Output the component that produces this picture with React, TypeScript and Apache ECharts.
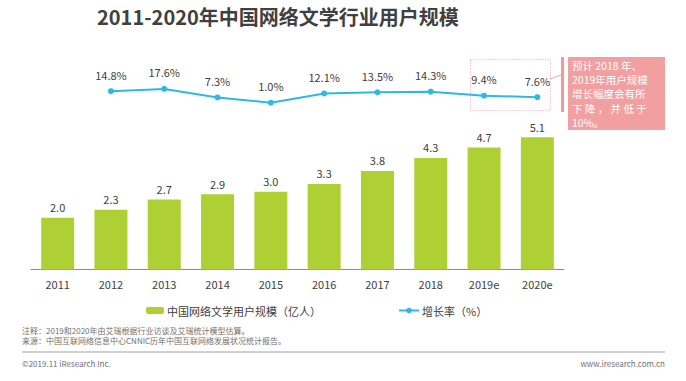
import React, { useEffect, useRef } from "react";
import * as echarts from "echarts";

const categories = ["2011", "2012", "2013", "2014", "2015", "2016", "2017", "2018", "2019e", "2020e"];
const userScale = [2.0, 2.3, 2.7, 2.9, 3.0, 3.3, 3.8, 4.3, 4.7, 5.1];
const growthRate: (number | string)[] = ["-", 14.8, 17.6, 7.3, 1.0, 12.1, 13.5, 14.3, 9.4, 7.6];
const barName = "中国网络文学用户规模（亿人）";
const lineName = "增长率（%）";
const titleText = "2011-2020年中国网络文学行业用户规模";
const noteLines = [
  "注释：2019和2020年由艾瑞根据行业访谈及艾瑞统计模型估算。",
  "来源：中国互联网络信息中心CNNIC历年中国互联网络发展状况统计报告。",
];
const calloutLines = ["预计 2018 年、", "2019年用户规模", "增长幅度会有所", "下 降 ， 并 低 于", "10%。"];

const FONT = "'Noto Sans CJK SC', 'Noto Sans', sans-serif";

export default function App() {
  const ref = useRef<HTMLDivElement>(null);
  useEffect(() => {
    document.body.style.margin = "0";
    const chart = echarts.init(ref.current!, null, { renderer: "svg" });
    const calloutTexts = calloutLines.map((t, i) => ({
      type: "text",
      left: 572,
      top: 59 + i * 14.2,
      style: { text: t, fontSize: 10.5, lineHeight: 13, fill: "#ffffff", fontFamily: FONT },
    }));
    chart.setOption({
      animation: false,
      backgroundColor: "#ffffff",
      textStyle: { fontFamily: FONT },
      grid: { left: 31, right: 122, top: 62, bottom: 111.5 },
      xAxis: {
        type: "category",
        data: categories,
        axisLine: { lineStyle: { color: "#8c8c8c", width: 1 } },
        axisTick: { show: false },
        axisLabel: { color: "#404040", fontSize: 11, margin: 9, fontFamily: FONT },
      },
      yAxis: [
        { type: "value", min: 0, max: 8, show: false, splitLine: { show: false } },
        { type: "value", min: -200, max: 50, show: false, splitLine: { show: false } },
      ],
      legend: [
        {
          data: [barName],
          left: 141,
          top: 300,
          itemWidth: 18,
          itemHeight: 7,
          itemGap: 0,
          textStyle: { color: "#404040", fontSize: 11, fontFamily: FONT, padding: [0, 0, 0, -2] },
        },
        {
          data: [lineName],
          left: 393,
          top: 300,
          itemWidth: 20,
          itemHeight: 7,
          textStyle: { color: "#404040", fontSize: 11, fontFamily: FONT, padding: [0, 0, 0, -2] },
        },
      ],
      series: [
        {
          name: barName,
          type: "bar",
          data: userScale,
          barWidth: 33,
          itemStyle: { color: "#afd035" },
          label: {
            show: true,
            position: "top",
            distance: 5,
            color: "#404040",
            fontSize: 11,
            fontFamily: FONT,
            formatter: (p: any) => Number(p.value).toFixed(1),
          },
        },
        {
          name: lineName,
          type: "line",
          yAxisIndex: 1,
          data: growthRate,
          symbol: "circle",
          symbolSize: 6,
          itemStyle: { color: "#2fb8e3" },
          lineStyle: { color: "#2fb8e3", width: 2 },
          label: {
            show: true,
            position: "top",
            distance: 8,
            color: "#404040",
            fontSize: 11,
            fontFamily: FONT,
            formatter: (p: any) => Number(p.value).toFixed(1) + "%",
          },
        },
      ],
      graphic: [
        {
          type: "text",
          left: 97,
          top: 6,
          style: { text: titleText, fontSize: 20, fontWeight: "bold", fill: "#404040", fontFamily: FONT },
        },
        {
          type: "rect",
          shape: { x: 470.5, y: 59.5, width: 80, height: 51 },
          style: { fill: "none", stroke: "#e8a0a8", lineWidth: 1, lineDash: [1, 2] },
        },
        {
          type: "line",
          shape: { x1: 550, y1: 79, x2: 561, y2: 75 },
          style: { stroke: "#eda0a8", lineWidth: 1 },
        },
        {
          type: "rect",
          shape: { x: 561, y: 57, width: 3, height: 55 },
          style: { fill: "#ee9a9e" },
        },
        {
          type: "rect",
          shape: { x: 568, y: 57, width: 97, height: 73 },
          style: { fill: "#f29fa1" },
        },
        ...calloutTexts,
        {
          type: "text",
          left: 22,
          top: 326,
          style: { text: noteLines[0], fontSize: 8, lineHeight: 9, fill: "#707070", fontFamily: FONT },
        },
        {
          type: "text",
          left: 22,
          top: 336,
          style: { text: noteLines[1], fontSize: 8, lineHeight: 9, fill: "#707070", fontFamily: FONT },
        },
        {
          type: "line",
          shape: { x1: 22, y1: 352, x2: 665, y2: 352 },
          style: { stroke: "#a0a0a0", lineWidth: 1 },
        },
        {
          type: "text",
          left: 22,
          top: 359,
          style: { text: "©2019.11 iResearch Inc.", fontSize: 8, fill: "#707070", fontFamily: FONT },
        },
        {
          type: "text",
          right: 21,
          top: 359,
          style: { text: "www.iresearch.com.cn", fontSize: 8, fill: "#707070", fontFamily: FONT },
        },
      ],
    });
    return () => chart.dispose();
  }, []);
  return <div ref={ref} style={{ width: 686, height: 381 }} />;
}
